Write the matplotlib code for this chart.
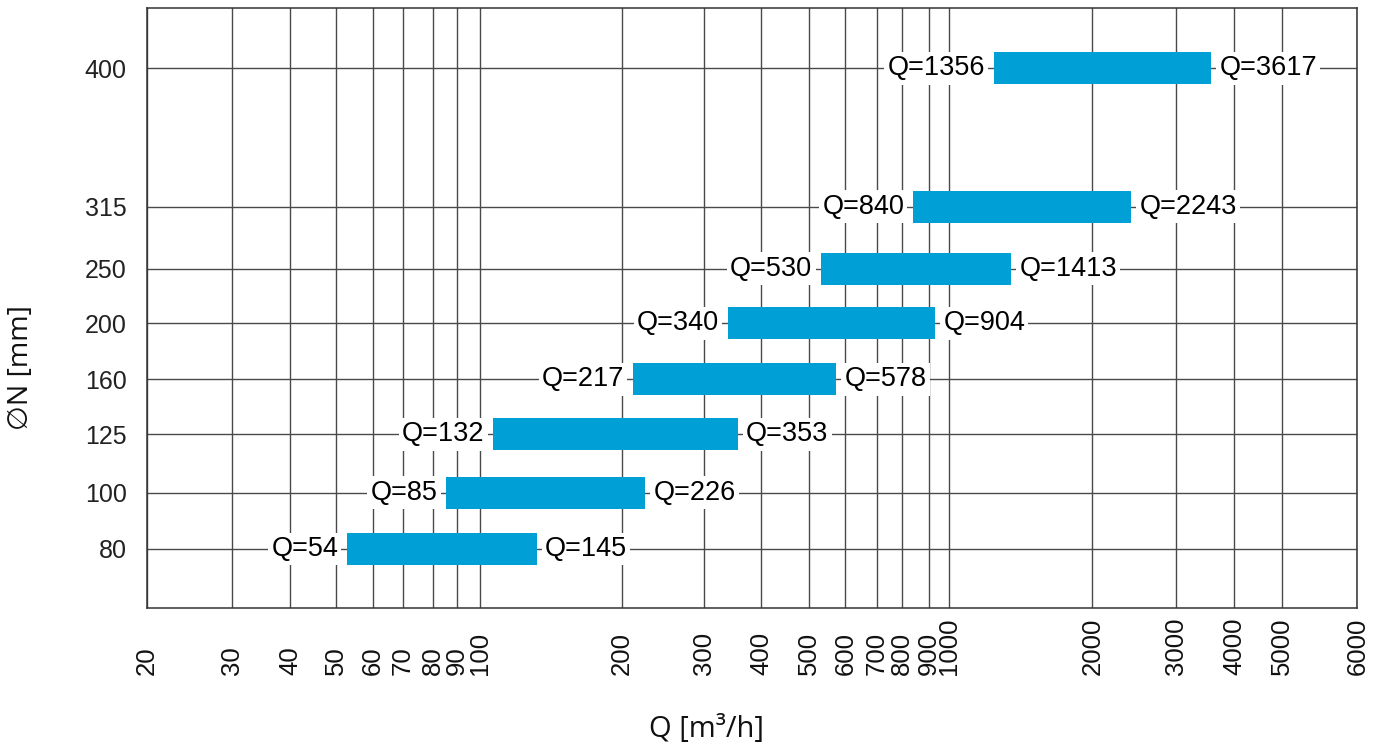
import numpy as np
import matplotlib
matplotlib.use('Agg')
import matplotlib.pyplot as plt
from matplotlib.ticker import NullLocator

# ---- data ----
dn_labels = ['80', '100', '125', '160', '200', '250', '315', '400']
q_min_label = [54, 85, 132, 217, 340, 530, 840, 1356]
q_max_label = [145, 226, 353, 578, 904, 1413, 2243, 3617]
bar_start = [52.8, 85.3, 106.7, 211.4, 338.4, 531.6, 838.6, 1243]
bar_end = [132.0, 224.3, 355.2, 572.8, 928.7, 1349.7, 2410.8, 3566]
x_ticks = [20, 30, 40, 50, 60, 70, 80, 90, 100, 200, 300, 400, 500, 600, 700,
           800, 900, 1000, 2000, 3000, 4000, 5000, 6000]

# ---- layout: row positions of the DN classes on the vertical axis ----
row_pos = [0, 1.004, 2.046, 3.027, 4.026, 5.0, 6.106, 8.575]
# calibration of the (hand-drawn) logarithmic Q axis: relative position of each tick
axis_calib = [147, 231.7, 290, 336, 372.7, 402.7, 433.3, 456.7, 480, 621.7, 704,
              761.3, 808.7, 845.3, 876.7, 902.3, 929, 949, 1092.3, 1176.3, 1234,
              1281.7, 1357.3]

log_ticks = np.log10(np.array(x_ticks, dtype=float))
calib = np.array(axis_calib, dtype=float)


def fwd(x):
    x = np.asarray(x, dtype=float)
    lx = np.log10(np.clip(x, 1e-9, None))
    return np.interp(lx, log_ticks, calib, left=calib[0] - 1000, right=calib[-1] + 1000)


def inv(p):
    p = np.asarray(p, dtype=float)
    return 10 ** np.interp(p, calib, log_ticks)


BAR = '#00a0d6'
GRID = '#4a4a4a'

fig = plt.figure(figsize=(13.81, 7.54), dpi=100)
ax = fig.add_axes([147 / 1381, 1 - 608.3 / 754, (1357.3 - 147) / 1381, 600 / 754])

ax.set_xscale('function', functions=(fwd, inv))
ax.set_xlim(20, 6000)
ax.set_ylim(-1.058, 9.645)

ax.set_xticks(x_ticks, labels=[str(t) for t in x_ticks], rotation=90,
              va='bottom', ha='center', fontsize=18.5, family='Liberation Sans', color='#111111')
ax.xaxis.set_minor_locator(NullLocator())
ax.set_yticks(row_pos, labels=dn_labels, fontsize=18, family='Liberation Sans', color='#222222')
ax.yaxis.set_minor_locator(NullLocator())
ax.tick_params(axis='x', length=0, pad=48)
ax.tick_params(axis='y', length=0, pad=14.6)

ax.grid(True, axis='both', color=GRID, linewidth=1.0, zorder=1)
ax.set_axisbelow(True)
for s in ax.spines.values():
    s.set_color('#333333')
    s.set_linewidth(1.1)

bar_h = 0.565
widths = [e - s for s, e in zip(bar_start, bar_end)]
ax.barh(row_pos, widths, left=bar_start, height=bar_h, color=BAR, zorder=3)

box = dict(boxstyle='square,pad=0.12', fc='white', ec='none')
for y, s, e, lo, hi in zip(row_pos, bar_start, bar_end, q_min_label, q_max_label):
    ax.annotate(f'Q={lo}', xy=(s, y), xytext=(-6.3, 0), textcoords='offset points',
                ha='right', va='center', fontsize=19.5, family='Liberation Sans',
                color='black', bbox=box, zorder=4)
    ax.annotate(f'Q={hi}', xy=(e, y), xytext=(6.0, 0), textcoords='offset points',
                ha='left', va='center', fontsize=19.5, family='Liberation Sans',
                color='black', bbox=box, zorder=4)

fig.text(706.7 / 1381, 1 - 729 / 754, 'Q [m³/h]', ha='center', va='center',
         fontsize=21, family=['Open Sans', 'DejaVu Sans'], color='#111111')
fig.text(21 / 1381, 1 - 368 / 754, '∅N [mm]', ha='center', va='center', rotation=90,
         fontsize=20.5, family=['Open Sans', 'DejaVu Sans'], color='#111111')

fig.savefig('out.png', dpi=100)
